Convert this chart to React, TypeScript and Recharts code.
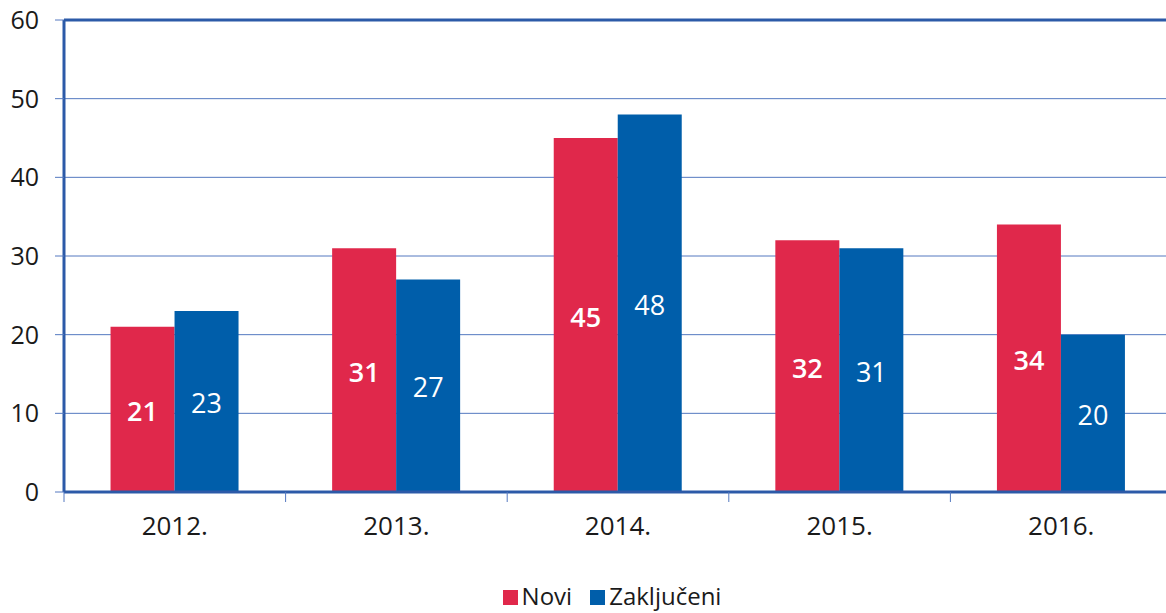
import { BarChart, Bar, XAxis, YAxis, CartesianGrid, Legend, LabelList, ReferenceLine } from "recharts";

const years = ["2012.", "2013.", "2014.", "2015.", "2016."];
const novi = [21, 31, 45, 32, 34];
const zakljuceni = [23, 27, 48, 31, 20];
const yTicks = [0, 10, 20, 30, 40, 50, 60];

const data = years.map((year, i) => ({ year, novi: novi[i], zakljuceni: zakljuceni[i] }));

const RED = "#e0284b";
const BLUE = "#005eaa";
const AXIS = "#2c5aa8";
const GRID = "#5479c0";
const FONT = "'Open Sans', sans-serif";

const CHART_W = 1180;
const MARGIN_RIGHT = 8;
const Y_W = 64;
const BAND = (CHART_W - MARGIN_RIGHT - Y_W) / years.length;

function XTick({ x, y, payload, index }: any) {
  const last = index === years.length - 1;
  return (
    <g>
      <line x1={x - BAND / 2} x2={x - BAND / 2} y1={y - 8} y2={y + 2} stroke={GRID} strokeWidth={1} />
      {last && <line x1={x + BAND / 2} x2={x + BAND / 2} y1={y - 8} y2={y + 2} stroke={GRID} strokeWidth={1} />}
      <text x={x} y={y + 35} textAnchor="middle" fontSize={26} fill="#1a1a1a" fontFamily={FONT}>
        {payload.value}
      </text>
    </g>
  );
}

function LegendContent() {
  const items = [
    { name: "Novi", color: RED },
    { name: "Zaključeni", color: BLUE },
  ];
  return (
    <div style={{ display: "flex", justifyContent: "center", gap: 18, fontFamily: FONT, fontSize: 24, lineHeight: "28px", height: 30, color: "#1a1a1a", paddingLeft: 52 }}>
      {items.map((it) => (
        <div key={it.name} style={{ display: "flex", alignItems: "center", gap: 4 }}>
          <span style={{ width: 15, height: 15, background: it.color, display: "inline-block", marginTop: 2 }} />
          <span>{it.name}</span>
        </div>
      ))}
    </div>
  );
}

export default function App() {
  return (
    <div style={{ position: "absolute", left: 0, top: 0, width: 1166, height: 613, overflow: "hidden", background: "#fff" }}>
      <BarChart
        width={CHART_W}
        height={613}
        data={data}
        margin={{ top: 20, right: MARGIN_RIGHT, left: 0, bottom: 0 }}
        barCategoryGap="21%"
        barGap={0}
      >
        <CartesianGrid vertical={false} stroke={GRID} strokeWidth={1} />
        <XAxis
          dataKey="year"
          height={89}
          axisLine={{ stroke: AXIS, strokeWidth: 3 }}
          tickLine={false}
          tick={<XTick />}
          interval={0}
        />
        <YAxis
          width={Y_W}
          domain={[0, 60]}
          ticks={yTicks}
          interval={0}
          axisLine={{ stroke: AXIS, strokeWidth: 3 }}
          tickLine={{ stroke: GRID, strokeWidth: 1 }}
          tickSize={9}
          tick={{ fontSize: 25, fill: "#1a1a1a", fontFamily: FONT, dx: -14 }}
        />
        <ReferenceLine y={60} stroke={AXIS} strokeWidth={3} />
        <Legend verticalAlign="bottom" height={32} content={<LegendContent />} />
        <Bar dataKey="novi" fill={RED} isAnimationActive={false}>
          <LabelList dataKey="novi" position="center" fill="#fff" fontSize={27} fontWeight={600} fontFamily={FONT} dy={2} />
        </Bar>
        <Bar dataKey="zakljuceni" fill={BLUE} isAnimationActive={false}>
          <LabelList dataKey="zakljuceni" position="center" fill="#fff" fontSize={27} fontFamily={FONT} dy={2} />
        </Bar>
      </BarChart>
    </div>
  );
}
